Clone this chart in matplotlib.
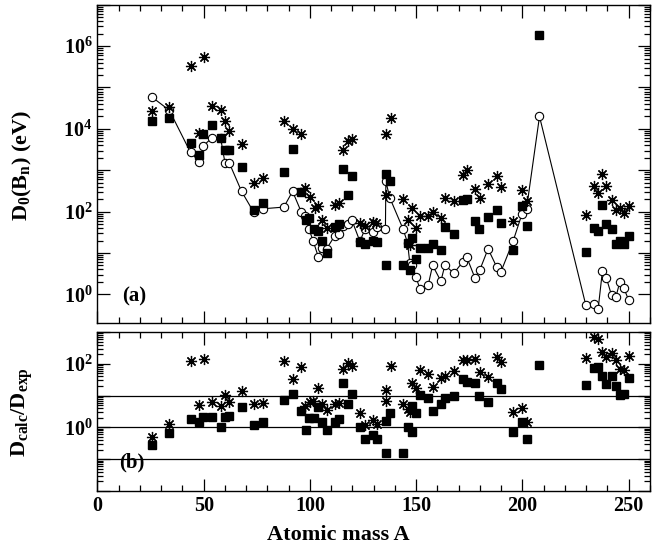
import numpy as np
import matplotlib
matplotlib.use('Agg')
import matplotlib.pyplot as plt
from matplotlib.ticker import FixedLocator, FuncFormatter, MultipleLocator, NullFormatter

plt.rcParams['font.family'] = ['Liberation Serif', 'DejaVu Serif']
plt.rcParams['font.weight'] = 'bold'
plt.rcParams['mathtext.fontset'] = 'custom'
plt.rcParams['mathtext.rm'] = 'Liberation Serif:bold'
plt.rcParams['mathtext.bf'] = 'Liberation Serif:bold'
plt.rcParams['mathtext.it'] = 'Liberation Serif:bold'

# ---------------- data (log10 of D0 in eV) ----------------
A_exp = [25.6, 33.8, 43.8, 47.9, 49.8, 54.0, 57.9, 60.0, 62.0, 67.8, 73.6, 78.0,
         87.7, 91.8, 96.0, 97.6, 99.6, 101.5, 103.9, 105.7, 107.8, 111.7, 113.7,
         115.6, 118.0, 119.6, 123.5, 125.8, 129.7, 131.6, 135.5, 135.7, 137.6,
         143.8, 145.9, 147.0, 147.8, 149.8, 151.7, 155.6, 157.7, 161.6, 163.5,
         167.7, 171.8, 173.7, 177.6, 179.9, 183.8, 187.8, 189.8, 195.6, 199.8,
         201.9, 208.0, 229.8, 233.5, 235.6, 237.6, 239.5, 241.9, 243.9, 245.8,
         247.6, 250.0]
logD_exp = [4.77, 4.45, 3.43, 3.21, 3.59, 3.79, 3.79, 3.18, 3.18, 2.49, 1.98, 2.07,
            2.11, 2.49, 1.98, 1.90, 1.57, 1.29, 0.91, 1.13, 1.10, 1.42, 1.45,
            1.66, 1.69, 1.81, 1.28, 1.57, 1.52, 1.62, 1.57, 2.73, 2.33,
            1.58, 1.25, 0.75, 0.72, 0.43, 0.14, 0.22, 0.70, 0.32, 0.71,
            0.51, 0.78, 0.91, 0.40, 0.59, 1.10, 0.67, 0.54, 1.29, 1.95,
            2.07, 4.30, -0.26, -0.23, -0.35, 0.56, 0.39, -0.02, -0.07, 0.30,
            0.16, -0.14]

A_sq = [25.6, 33.8, 43.8, 47.9, 49.8, 54.0, 57.9, 60.0, 62.0, 67.8, 73.6, 78.0,
        87.7, 91.8, 96.0, 98.0, 99.6, 101.8, 103.9, 105.7, 107.8, 111.7, 113.7,
        115.6, 118.0, 119.6, 123.5, 125.8, 129.7, 131.6, 135.7, 135.7, 137.6,
        143.8, 145.9, 147.8, 147.0, 149.8, 151.7, 155.6, 158.0, 161.6, 163.5,
        167.7, 171.8, 173.7, 177.6, 179.6, 183.8, 187.8, 189.8, 195.6, 199.8,
        201.9, 208.0, 229.8, 233.5, 235.6, 237.6, 239.5, 241.9, 243.9, 245.8,
        247.6, 250.0]
logD_sq = [4.20, 4.27, 3.67, 3.38, 3.87, 4.09, 3.79, 3.50, 3.50, 3.09, 2.05, 2.21,
           2.96, 3.51, 2.48, 1.81, 1.85, 1.58, 1.53, 1.29, 1.00, 1.63, 1.69,
           3.04, 2.41, 2.85, 1.26, 1.21, 1.29, 1.26, 2.92, 0.70, 2.73,
           0.72, 1.25, 1.37, 0.60, 0.86, 1.13, 1.13, 1.21, 1.07, 1.63,
           1.47, 2.27, 2.31, 1.77, 1.58, 1.87, 2.05, 1.73, 1.08, 2.13,
           1.66, 6.27, 1.03, 1.61, 1.54, 2.17, 1.71, 1.59, 1.21, 1.30,
           1.21, 1.41]

A_st = [25.6, 33.8, 43.8, 47.9, 50.0, 54.0, 57.9, 60.0, 62.0, 67.8, 73.6, 78.0,
        87.7, 91.8, 96.0, 97.6, 100.0, 102.3, 103.9, 105.7, 107.8, 111.7, 113.7,
        115.6, 118.0, 119.9, 123.5, 125.8, 129.7, 131.3, 135.7, 135.7, 137.9,
        143.8, 145.9, 147.0, 147.8, 149.8, 151.7, 155.6, 157.7, 161.6, 163.5,
        167.7, 171.8, 173.7, 177.6, 179.9, 183.8, 187.8, 189.8, 195.6, 199.8,
        201.9, 229.8, 233.5, 235.6, 237.6, 239.5, 241.9, 243.9, 245.8,
        247.6, 250.0]
logD_st = [4.44, 4.53, 5.53, 3.91, 5.73, 4.56, 4.46, 4.18, 3.95, 3.64, 2.69, 2.81,
           4.20, 4.00, 3.87, 2.57, 2.35, 2.09, 2.13, 1.81, 1.61, 2.17, 2.21,
           3.50, 3.70, 3.75, 1.73, 1.65, 1.74, 1.73, 2.41, 3.87, 4.26,
           2.31, 1.81, 1.20, 2.09, 1.61, 1.90, 1.90, 1.98, 1.85, 2.33,
           2.25, 2.89, 3.01, 2.55, 2.33, 2.68, 2.87, 2.60, 1.77, 2.52,
           2.25, 1.93, 2.61, 2.45, 2.92, 2.61, 2.29, 2.03, 2.09,
           1.97, 2.13]

# ratios Dcalc/Dexp (log10), lower panel
A_rst = [25.6, 33.8, 43.8, 47.9, 50.0, 54.0, 57.9, 60.0, 62.0, 67.8, 73.6, 78.0,
         87.7, 91.8, 96.0, 97.6, 100.0, 101.5, 103.9, 105.7, 107.8, 111.7, 113.7,
         115.6, 118.0, 119.6, 123.5, 125.8, 129.7, 131.6, 135.7, 135.7, 137.9,
         143.8, 145.9, 147.0, 147.8, 149.8, 151.7, 155.6, 157.7, 161.6, 163.5,
         167.7, 171.8, 173.7, 177.6, 179.9, 183.8, 187.8, 189.8, 195.6, 199.8,
         201.9, 229.8, 233.5, 235.6, 237.6, 239.5, 241.9, 243.9, 245.8,
         247.6, 250.0]
logR_st = [-0.31, 0.10, 2.10, 0.70, 2.15, 0.79, 0.67, 1.02, 0.79, 1.15, 0.73, 0.76,
           2.10, 1.51, 1.91, 0.67, 0.81, 0.83, 1.25, 0.73, 0.55, 0.72, 0.76,
           1.83, 2.02, 1.94, 0.44, 0.08, 0.23, 0.10, 1.18, 0.83, 1.93,
           0.73, 0.57, 0.47, 1.39, 1.23, 1.80, 1.68, 1.28, 1.54, 1.62,
           1.78, 2.12, 2.12, 2.16, 1.75, 1.58, 2.20, 2.07, 0.49, 0.60,
           0.18, 2.19, 2.83, 2.78, 2.38, 2.22, 2.33, 2.12, 1.83,
           1.80, 2.25]

A_rsq = [25.6, 33.8, 43.8, 47.9, 49.8, 54.0, 57.9, 60.0, 62.0, 67.8, 73.6, 78.0,
         87.7, 91.8, 96.0, 98.0, 99.6, 101.8, 103.9, 105.7, 107.8, 111.7, 113.7,
         115.6, 118.0, 119.9, 123.5, 125.8, 129.7, 131.6, 135.7, 137.6, 135.7,
         143.8, 145.9, 147.8, 147.8, 149.8, 151.7, 155.6, 158.0, 161.6, 163.5,
         167.7, 171.8, 173.7, 177.6, 179.6, 183.8, 187.8, 189.8, 195.6, 199.8,
         201.9, 208.0, 229.8, 233.5, 235.6, 237.6, 239.5, 241.9, 243.9, 245.8,
         247.6, 250.0]
logR_sq = [-0.55, -0.19, 0.25, 0.16, 0.34, 0.34, 0.00, 0.32, 0.37, 0.63, 0.08, 0.16,
           0.86, 1.04, 0.52, -0.08, 0.31, 0.31, 0.65, 0.16, -0.08, 0.18, 0.26,
           1.39, 0.73, 1.04, 0.00, -0.36, -0.24, -0.36, 0.20, 0.44, -0.82,
           -0.82, 0.00, -0.15, 0.67, 0.44, 1.02, 0.92, 0.52, 0.73, 0.92,
           0.99, 1.52, 1.42, 1.39, 0.99, 0.79, 1.39, 1.20, -0.15, 0.16,
           -0.37, 1.96, 1.33, 1.86, 1.89, 1.62, 1.36, 1.62, 1.30, 1.02,
           1.04, 1.54]

ref_lines = [0.1, 1.0, 10.0]
x_ticks = [0, 50, 100, 150, 200, 250]

# ---------------- figure ----------------
fig = plt.figure(figsize=(6.69, 5.51), dpi=100)
ax1 = fig.add_axes([0.1457, 0.4132, 0.8259, 0.5782])
ax2 = fig.add_axes([0.1457, 0.1089, 0.8259, 0.2886])

star = (8, 2, 0)
p = lambda a: 10.0 ** np.asarray(a)

ax1.plot(A_exp, p(logD_exp), '-', color='black', lw=0.8, marker='o', ms=6,
         mfc='white', mec='black', mew=0.8, zorder=3)
ax1.plot(A_sq, p(logD_sq), ls='none', marker='s', ms=5.5, mfc='black',
         mec='black', zorder=4)
ax1.plot(A_st, p(logD_st), ls='none', marker=star, ms=8, mec='black',
         mew=0.9, zorder=5)

ax2.plot(A_rst, p(logR_st), ls='none', marker=star, ms=8, mec='black',
         mew=0.9, zorder=5)
ax2.plot(A_rsq, p(logR_sq), ls='none', marker='s', ms=5.5, mfc='black',
         mec='black', zorder=4)
for v in ref_lines:
    ax2.axhline(v, color='black', lw=0.9, zorder=2)

for ax in (ax1, ax2):
    ax.set_yscale('log')
    ax.set_xlim(0, 260)
    ax.xaxis.set_major_locator(FixedLocator(x_ticks))
    ax.xaxis.set_minor_locator(MultipleLocator(10))
    ax.tick_params(which='both', direction='in', top=True, right=True,
                   labelsize=14.5, width=0.9)
    ax.tick_params(which='major', length=9)
    ax.tick_params(which='minor', length=4.5)
    for s in ax.spines.values():
        s.set_linewidth(1.0)

ax1.set_ylim(0.2, 1e7)
ax1.yaxis.set_major_locator(FixedLocator([10.0 ** e for e in range(0, 8)]))
ax1.yaxis.set_minor_locator(FixedLocator([k * 10.0 ** e for e in range(0, 7) for k in range(2, 10)]))
ax1.yaxis.set_major_formatter(FuncFormatter(
    lambda v, pos: (r'$\mathdefault{10^{%d}}$' % int(round(np.log10(v))))
    if int(round(np.log10(v))) in (0, 2, 4, 6) else ''))
ax1.yaxis.set_minor_formatter(NullFormatter())
ax1.xaxis.set_major_formatter(NullFormatter())

ax2.set_ylim(0.01, 1000)
ax2.yaxis.set_major_locator(FixedLocator([10.0 ** e for e in range(-2, 4)]))
ax2.yaxis.set_minor_locator(FixedLocator([k * 10.0 ** e for e in range(-2, 3) for k in range(2, 10)]))
ax2.yaxis.set_major_formatter(FuncFormatter(
    lambda v, pos: (r'$\mathdefault{10^{%d}}$' % int(round(np.log10(v))))
    if int(round(np.log10(v))) in (0, 2) else ''))
ax2.yaxis.set_minor_formatter(NullFormatter())
ax2.xaxis.set_major_formatter(FuncFormatter(lambda v, pos: '%d' % v))

ax1.text(0.045, 0.085, '(a)', transform=ax1.transAxes, fontsize=15,
         fontweight='bold', va='center', ha='left')
ax2.text(0.04, 0.18, '(b)', transform=ax2.transAxes, fontsize=15,
         fontweight='bold', va='center', ha='left')

fig.text(0.033, 0.70, r'D$_\mathdefault{0}$(B$_\mathdefault{n}$) (eV)', rotation=90,
         fontsize=16, fontweight='bold', ha='center', va='center')
fig.text(0.033, 0.253, r'D$_\mathdefault{calc}$/D$_\mathdefault{exp}$', rotation=90,
         fontsize=16, fontweight='bold', ha='center', va='center')
fig.text(0.505, 0.029, 'Atomic mass A', fontsize=16, fontweight='bold',
         ha='center', va='center')

fig.savefig('out.png', dpi=100)
